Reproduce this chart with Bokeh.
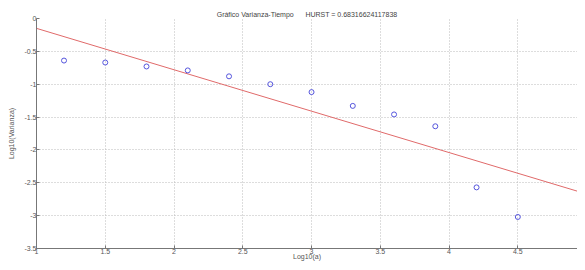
from bokeh.plotting import figure
from bokeh.models import FixedTicker, Range1d
from bokeh.embed import file_html
from bokeh.resources import INLINE

# data
log_a = [1.2, 1.5, 1.8, 2.1, 2.4, 2.7, 3.0, 3.3, 3.6, 3.9, 4.2, 4.5]
log_var = [-0.64, -0.67, -0.73, -0.79, -0.88, -1.0, -1.12, -1.33, -1.46, -1.64, -2.57, -3.02]
fit_x = [1.0, 5.0]
fit_y = [-0.15, -2.67]
x_ticks = [1, 1.5, 2, 2.5, 3, 3.5, 4, 4.5, 5]
x_tick_labels = ["1", "1.5", "2", "2.5", "3", "3.5", "4", "4.5", "5"]
y_ticks = [0, -0.5, -1, -1.5, -2, -2.5, -3, -3.5]
y_tick_labels = ["0", "-0.5", "-1", "-1.5", "-2", "-2.5", "-3", "-3.5"]
title_text = "Gráfico Varianza-Tiempo\u00a0\u00a0\u00a0\u00a0\u00a0\u00a0HURST = 0.68316624117838"

FONT = "Liberation Sans"

p = figure(width=577, height=262, output_backend="svg", toolbar_location=None,
           x_range=Range1d(1, 4.934), y_range=Range1d(-3.5, 0),
           min_border_left=36, min_border_right=0, min_border_top=18, min_border_bottom=0)

p.title.text = title_text
p.title.align = "center"
p.title.text_font = FONT
p.title.text_font_size = "7px"
p.title.text_font_style = "normal"
p.title.text_color = "#444444"
p.title.standoff = 2
p.title.offset = 0

p.outline_line_color = None
p.background_fill_color = "white"
p.border_fill_color = "white"

for ax, ticks, labels in ((p.xaxis[0], x_ticks, x_tick_labels), (p.yaxis[0], y_ticks, y_tick_labels)):
    ax.ticker = FixedTicker(ticks=ticks)
    ax.major_label_overrides = {t: l for t, l in zip(ticks, labels)}
    ax.minor_tick_line_color = None
    ax.major_tick_in = 3
    ax.major_tick_out = 0
    ax.major_tick_line_color = "#777777"
    ax.axis_line_color = "#777777"
    ax.major_label_text_font = FONT
    ax.major_label_text_font_size = "7px"
    ax.major_label_text_color = "#555555"
    ax.axis_label_text_font = FONT
    ax.axis_label_text_font_size = "7px"
    ax.axis_label_text_font_style = "normal"
    ax.axis_label_text_color = "#555555"

p.xaxis.major_label_standoff = 0
p.xaxis.axis_label_standoff = -4
p.xaxis.major_label_text_line_height = 0.8
p.xaxis.axis_label_text_line_height = 0.8
p.yaxis.major_label_standoff = 0
p.yaxis.axis_label_standoff = 6

p.xaxis.axis_label = "Log10(a)"
p.yaxis.axis_label = "Log10(Varianza)"

p.grid.grid_line_color = "#bbbbbb"
p.grid.grid_line_dash = "1 2"
p.grid.grid_line_width = 1
p.xgrid.ticker = FixedTicker(ticks=x_ticks)
p.ygrid.ticker = FixedTicker(ticks=y_ticks)

p.line(fit_x, fit_y, line_color="#e06a6a", line_width=1)
p.scatter(log_a, log_var, marker="circle", size=5, fill_color=None,
          line_color="#5555dd", line_width=1)

open("out.html", "w").write(file_html(p, INLINE))
